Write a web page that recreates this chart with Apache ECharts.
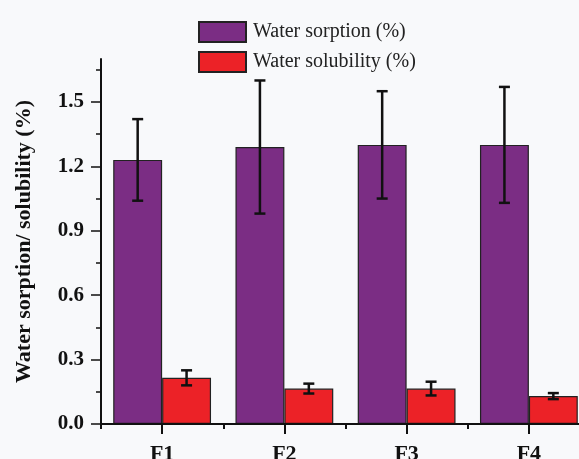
<!DOCTYPE html>
<html>
<head>
<meta charset="utf-8">
<script src="https://cdn.jsdelivr.net/npm/echarts@6/dist/echarts.min.js"></script>
<style>
  html, body { margin: 0; padding: 0; background: #f8f9fb; }
  #chart { width: 579px; height: 459px; }
</style>
</head>
<body>
<div id="chart"></div>
<script>
const categories = ['F1', 'F2', 'F3', 'F4'];
const sorption = [1.23, 1.29, 1.30, 1.30];
const sorptionErr = [0.19, 0.31, 0.25, 0.27];
const solubility = [0.215, 0.165, 0.165, 0.13];
const solubilityErr = [0.035, 0.023, 0.032, 0.014];
const majorTicks = [0, 0.3, 0.6, 0.9, 1.2, 1.5];
const minorTicks = [0.15, 0.45, 0.75, 1.05, 1.35, 1.65];
// x positions (category index) of the long ticks under each label
const categoryTicks = [0, 1, 2, 3];

const FONT = '"Liberation Serif", "Times New Roman", serif';
const PURPLE = '#7b2d84';
const RED = '#ec2227';
const CAT_GAP = 0.2;

const chart = echarts.init(document.getElementById('chart'));

// error bars drawn at the centre of the left (side=-1) or right (side=1) bar
function errorSeries(values, errs, side, name) {
  return {
    type: 'custom',
    name: name,
    z: 5,
    silent: true,
    data: values.map((v, i) => [i, v - errs[i], v + errs[i]]),
    renderItem: (params, api) => {
      const catW = api.size([1, 0])[0];
      const barW = catW * (1 - CAT_GAP) / 2;
      const lo = api.coord([api.value(0), api.value(1)]);
      const hi = api.coord([api.value(0), api.value(2)]);
      const x = lo[0] + side * barW / 2;
      const cap = 5.5;
      const style = { stroke: '#111', lineWidth: 2.5 };
      return {
        type: 'group',
        children: [
          { type: 'line', shape: { x1: x, y1: lo[1], x2: x, y2: hi[1] }, style },
          { type: 'line', shape: { x1: x - cap, y1: lo[1], x2: x + cap, y2: lo[1] }, style },
          { type: 'line', shape: { x1: x - cap, y1: hi[1], x2: x + cap, y2: hi[1] }, style }
        ]
      };
    }
  };
}

chart.setOption({
  backgroundColor: '#f8f9fb',
  animation: false,
  textStyle: { fontFamily: FONT },
  legend: {
    orient: 'vertical',
    left: 193,
    top: 16,
    icon: 'rect',
    itemWidth: 47,
    itemHeight: 20,
    itemGap: 8,
    data: ['Water sorption (%)', 'Water solubility (%)'],
    textStyle: { fontFamily: FONT, fontSize: 20, color: '#222', padding: [0, 0, 0, 2] }
  },
  grid: { left: 101, right: -11, top: 59, bottom: 35, outerBoundsMode: 'none' },
  xAxis: [
    {
      type: 'category',
      data: categories,
      z: 3,
      axisLine: { onZero: false, lineStyle: { color: '#111', width: 2 } },
      axisTick: { show: true, inside: false, length: 5, lineStyle: { color: '#111', width: 2 } },
      axisLabel: { fontFamily: FONT, fontSize: 22, fontWeight: 'bold', color: '#111', margin: 19 }
    },
    {
      type: 'value',
      min: -0.5,
      max: 3.5,
      position: 'bottom',
      z: 3,
      axisLine: { show: false, onZero: false },
      axisTick: { show: true, inside: false, length: 10, customValues: categoryTicks, lineStyle: { color: '#111', width: 2 } },
      axisLabel: { show: false, customValues: categoryTicks },
      splitLine: { show: false }
    }
  ],
  yAxis: [
    {
      type: 'value',
      min: 0,
      max: 1.7,
      z: 3,
      name: 'Water sorption/ solubility (%)',
      nameLocation: 'middle',
      nameGap: 66,
      nameTextStyle: { fontFamily: FONT, fontSize: 22, fontWeight: 'bold', color: '#111' },
      axisLine: { show: true, onZero: false, lineStyle: { color: '#111', width: 2 } },
      axisTick: { show: true, inside: false, length: 10, customValues: majorTicks, lineStyle: { color: '#111', width: 1.5 } },
      axisLabel: {
        customValues: majorTicks,
        fontFamily: FONT, fontSize: 21, fontWeight: 'bold', color: '#111', margin: 17,
        formatter: (v) => v.toFixed(1)
      },
      splitLine: { show: false }
    },
    {
      type: 'value',
      min: 0,
      max: 1.7,
      position: 'left',
      z: 3,
      axisLine: { show: false, onZero: false },
      axisTick: { show: true, inside: false, length: 5, customValues: minorTicks, lineStyle: { color: '#111', width: 1.5 } },
      axisLabel: { show: false },
      splitLine: { show: false }
    }
  ],
  series: [
    {
      name: 'Water sorption (%)',
      type: 'bar',
      data: sorption,
      barGap: '0%',
      barCategoryGap: '20%',
      itemStyle: { color: PURPLE, borderColor: '#222', borderWidth: 1.2 }
    },
    {
      name: 'Water solubility (%)',
      type: 'bar',
      data: solubility,
      barGap: '0%',
      barCategoryGap: '20%',
      itemStyle: { color: RED, borderColor: '#222', borderWidth: 1.2 }
    },
    errorSeries(sorption, sorptionErr, -1, 'sorption-err'),
    errorSeries(solubility, solubilityErr, 1, 'solubility-err')
  ]
});
</script>
</body>
</html>
